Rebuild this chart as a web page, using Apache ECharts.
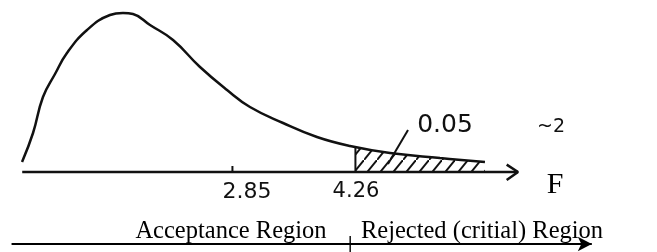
<!DOCTYPE html>
<html>
<head>
<meta charset="utf-8">
<script src="https://cdn.jsdelivr.net/npm/echarts@6/dist/echarts.min.js"></script>
<style>
html, body { margin: 0; padding: 0; background: #fff; }
#main { width: 657px; height: 252px; }
</style>
</head>
<body>
<div id="main"></div>
<script>
// F density curve (x in F units, y arbitrary height)
var curveF = [0.438, 0.564, 0.678, 0.816, 0.953, 1.183, 1.446, 1.595, 1.710, 1.905, 2.169, 2.478, 2.788, 3.051, 3.430, 3.819, 4.198, 4.656, 5.229, 5.745];
var curveD = [0.05, 0.195, 0.375, 0.49, 0.595, 0.71, 0.785, 0.795, 0.79, 0.735, 0.66, 0.525, 0.41, 0.325, 0.245, 0.175, 0.13, 0.095, 0.07, 0.05];
// rejected tail (shaded)
var tailF = [4.26, 4.656, 5.229, 5.745];
var tailD = [0.125, 0.095, 0.07, 0.05];
var critical = 4.26;
var tickValue = 2.85;
var tickLabels = ['2.85', '4.26'];
var alphaLabel = '0.05';
var axisStart = 0.44, axisEnd = 6.124;
var regionSplit = 4.2;
var regionStart = 0.32, regionEnd = 6.97;

function zip(a, b) {
    var out = [];
    for (var i = 0; i < a.length; i++) out.push([a[i], b[i]]);
    return out;
}

// diagonal hatch pattern
var hatch = document.createElement('canvas');
hatch.width = 13;
hatch.height = 16;
var hc = hatch.getContext('2d');
hc.strokeStyle = '#111';
hc.lineWidth = 2;
hc.beginPath();
hc.moveTo(-1, 17.2);
hc.lineTo(14, -1.2);
hc.stroke();

var dom = document.getElementById('main');
var myChart = echarts.init(dom);
var ink = '#111';
var lineOf = function (pts, w) {
    return {
        type: 'line', data: pts, symbol: 'none', silent: true,
        lineStyle: { color: ink, width: w || 2 }, z: 3
    };
};

var option = {
    animation: false,
    grid: { left: 10, top: 0, width: 610.6, height: 252 },
    xAxis: { type: 'value', min: 0.3, max: 7.3, show: false },
    yAxis: { type: 'value', min: -0.4, max: 0.86, show: false },
    series: [
        {
            type: 'line', data: zip(curveF, curveD), smooth: 0.45, symbol: 'none',
            lineStyle: { color: ink, width: 2.5 }, z: 4
        },
        {
            type: 'line', data: zip(tailF, tailD), smooth: 0.45, symbol: 'none',
            lineStyle: { width: 0 },
            areaStyle: { color: { image: hatch, repeat: 'repeat' }, opacity: 1 }, z: 2
        },
        lineOf([[critical, 0], [critical, tailD[0]]], 2),
        lineOf([[axisStart, 0], [axisEnd, 0]], 2.5),
        // open arrow head on the F axis
        lineOf([[axisEnd - 0.13, 0.037], [axisEnd, 0], [axisEnd - 0.13, -0.04]], 2.5),
        lineOf([[tickValue, 0], [tickValue, 0.03]], 2),
        // leader to the 0.05 area
        lineOf([[4.863, 0.21], [4.633, 0.04]], 2),
        {
            type: 'line', data: [[regionStart, -0.36], [regionEnd - 0.1, -0.36]], symbol: 'none',
            lineStyle: { color: '#000', width: 2 },
            markLine: {
                silent: true, symbol: ['none', 'arrow'], symbolSize: [11, 14],
                label: { show: false },
                lineStyle: { color: '#000', width: 2, type: 'solid' },
                data: [[{ coord: [regionStart, -0.36] }, { coord: [regionEnd, -0.36] }]]
            }
        },
        lineOf([[regionSplit, -0.32], [regionSplit, -0.4]], 1.5)
    ],
    graphic: [
        { type: 'text', x: 247, y: 192, style: { text: tickLabels[0], font: '22px "DejaVu Sans"', fill: ink, align: 'center', verticalAlign: 'middle' } },
        { type: 'text', x: 356, y: 192, style: { text: tickLabels[1], font: '21px "DejaVu Sans"', fill: ink, align: 'center', verticalAlign: 'middle' } },
        { type: 'text', x: 445, y: 125, style: { text: alphaLabel, font: '25px "DejaVu Sans"', fill: ink, align: 'center', verticalAlign: 'middle' } },
        { type: 'text', x: 551, y: 127, style: { text: '~2', font: '19px "DejaVu Sans"', fill: ink, align: 'center', verticalAlign: 'middle' } },
        { type: 'text', x: 555, y: 185, style: { text: 'F', font: '30px "Liberation Serif"', fill: '#000', align: 'center', verticalAlign: 'middle' } },
        { type: 'text', x: 231, y: 232, style: { text: 'Acceptance Region', font: '24.5px "Liberation Serif"', fill: '#000', align: 'center', verticalAlign: 'middle' } },
        { type: 'text', x: 482, y: 232, style: { text: 'Rejected (critial) Region', font: '24.5px "Liberation Serif"', fill: '#000', align: 'center', verticalAlign: 'middle' } }
    ]
};
if (option && typeof option === 'object') {
    myChart.setOption(option, true);
}
</script>
</body>
</html>
